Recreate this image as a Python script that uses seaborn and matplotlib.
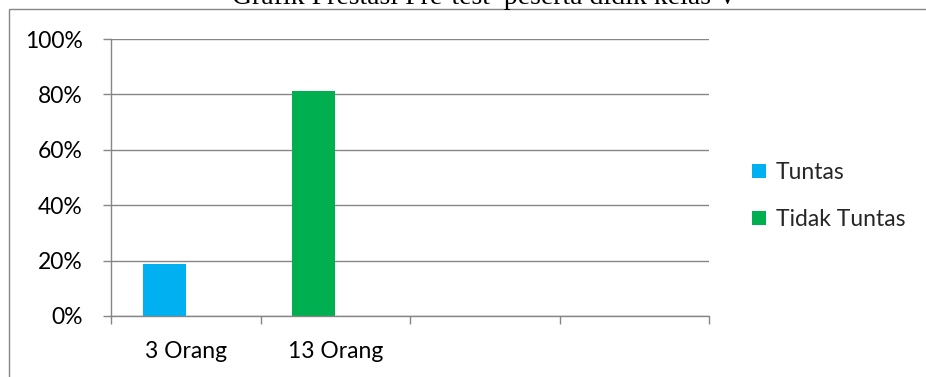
import matplotlib
matplotlib.use("Agg")
import matplotlib.pyplot as plt
from matplotlib.patches import Patch, Rectangle
from matplotlib.ticker import PercentFormatter
import seaborn as sns
import pandas as pd

# ---- data ----
title = "Grafik Prestasi Pre-test  peserta didik kelas V"
categories = ["3 Orang", "13 Orang"]
axis_labels = ["3 Orang", "13 Orang", "", ""]
series = ["Tuntas", "Tidak Tuntas"]
tuntas = [0.1875, None]
tidak_tuntas = [None, 0.8125]
colors = {"Tuntas": "#00B0F0", "Tidak Tuntas": "#00B050"}
y_ticks = [0, 0.2, 0.4, 0.6, 0.8, 1.0]

rows = []
for cat, t, tt in zip(categories, tuntas, tidak_tuntas):
    if t is not None:
        rows.append({"category": cat, "value": t, "series": "Tuntas", "slot": "left"})
    if tt is not None:
        rows.append({"category": cat, "value": tt, "series": "Tidak Tuntas", "slot": "left"})
df = pd.DataFrame(rows)

sns.set_theme(style="white")
plt.rcParams["font.family"] = ["Lato", "DejaVu Sans"]
GRAY = "#868686"
FS = 16.5

W, H = 926, 377
fig = plt.figure(figsize=(W / 100, H / 100), dpi=100)
ax = fig.add_axes([111 / W, (H - 316) / H, (709 - 111) / W, (316 - 39) / H])

for s in series:
    sub = df[df["series"] == s]
    sns.barplot(data=sub, x="category", y="value", hue="slot",
                hue_order=["left", "right"], order=categories,
                palette={"left": colors[s], "right": colors[s]},
                width=0.575, dodge=True, errorbar=None, legend=False, ax=ax,
                saturation=1, linewidth=0)

ax.set_xlim(-0.5, 3.5)
ax.set_ylim(0, 1)
ax.set_yticks(y_ticks)
ax.yaxis.set_major_formatter(PercentFormatter(1.0, decimals=0))
ax.set_xticks([-0.5, 0.5, 1.5, 2.5, 3.5])
ax.set_xticklabels([""] * 5)
ax.set_xticks([0, 1, 2, 3], minor=True)
ax.set_xticklabels(axis_labels, minor=True)
ax.set_xlabel("")
ax.set_ylabel("")

ax.grid(axis="y", color=GRAY, linewidth=1.0)
ax.set_axisbelow(True)
for side in ["top", "right"]:
    ax.spines[side].set_visible(False)
for side in ["left", "bottom"]:
    ax.spines[side].set_color(GRAY)
    ax.spines[side].set_linewidth(1.0)

ax.tick_params(axis="y", which="major", direction="out", length=5.5, width=1.0,
               color=GRAY, labelsize=FS, pad=15, labelcolor="black", left=True)
ax.tick_params(axis="x", which="major", direction="out", length=5.5, width=1.0,
               color=GRAY, bottom=True)
ax.tick_params(axis="x", which="minor", length=0, labelsize=FS, pad=18,
               labelcolor="black", bottom=True)

handles = [Patch(facecolor=colors[s], edgecolor="none", label=s) for s in series]
fig.legend(handles=handles, loc="center left",
           bbox_to_anchor=(752 / W, 1 - 196 / H), frameon=False,
           fontsize=FS, handlelength=0.61, handleheight=0.61,
           handletextpad=0.44, labelspacing=1.14, borderpad=0, borderaxespad=0)

# outer chart frame (left and top edges visible)
fig.patches.append(Rectangle((9 / W, -0.2), 1.5, 1.2 - 9 / H, fill=False,
                             edgecolor=GRAY, linewidth=1.0,
                             transform=fig.transFigure, clip_on=False))

fig.text(485 / W, 1 - 4 / H, title, ha="center", va="baseline",
         fontsize=20, family=["Liberation Serif", "DejaVu Serif"], color="black")

fig.savefig("out.png", dpi=100)
